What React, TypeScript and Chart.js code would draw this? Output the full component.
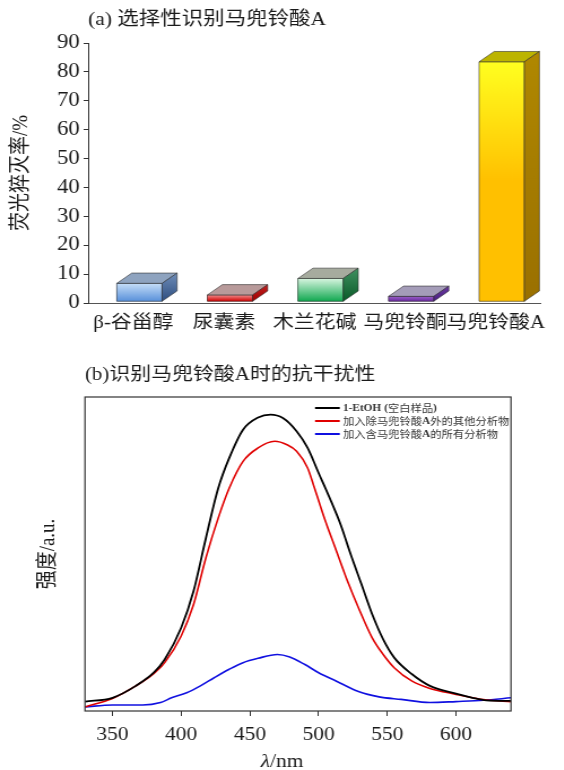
import React, { useEffect, useRef } from 'react';
import { Chart, registerables } from 'chart.js';

Chart.register(...registerables);

// ---------- data: panel (a) ----------
const titleA = '(a) 选择性识别马兜铃酸A';
const yTitleA = '荧光猝灭率/%';
const barCategories = ['β-谷甾醇', '尿囊素', '木兰花碱', '马兜铃酮', '马兜铃酸A'];
const quenchRates = [6.8, 2.8, 8.5, 2.3, 83.5];
const barBase = 0.6;
const yMaxA = 90;
const yStepA = 10;

// ---------- data: panel (b) ----------
const titleB = '(b)识别马兜铃酸A时的抗干扰性';
const yTitleB = '强度/a.u.';
const xTitleSymbol = 'λ';
const xTitleUnit = '/nm';
const xTickValues = [350, 400, 450, 500, 550, 600];
const xMinB = 330;
const xMaxB = 640;
const legendLabels = ['1-EtOH (空白样品)', '加入除马兜铃酸A外的其他分析物', '加入含马兜铃酸A的所有分析物'];

const blankWl = [330, 350, 367, 380, 388, 400, 409, 418, 427, 435, 445, 456, 465, 474, 484, 492, 500, 508, 516, 523, 531, 539, 547, 555, 568, 581, 600, 612, 622, 640];
const blankInt = [3.0, 4.2, 8.0, 12.2, 16.4, 26.5, 38.2, 55.1, 71.0, 80.6, 89.6, 93.5, 94.4, 93.3, 89.1, 83.8, 75.8, 67.9, 59.4, 50.3, 40.6, 30.8, 22.8, 17.0, 11.7, 8.0, 5.5, 4.2, 3.4, 3.2];

const othersWl = [330, 350, 367, 380, 388, 400, 409, 418, 427, 435, 445, 456, 468, 477, 484, 492, 497, 505, 513, 521, 529, 539, 547, 555, 568, 581, 600, 612, 622, 640];
const othersInt = [1.3, 4.0, 8.0, 11.9, 15.4, 23.9, 33.9, 48.8, 61.5, 71.0, 79.5, 83.8, 85.9, 84.8, 82.7, 77.4, 71.0, 60.4, 50.9, 41.4, 32.9, 23.3, 18.0, 13.8, 9.5, 7.2, 5.3, 4.2, 3.5, 3.0];

const allWl = [330, 350, 372, 385, 393, 404, 414, 424, 435, 445, 456, 470, 479, 490, 500, 513, 529, 544, 560, 581, 600, 620, 640];
const allInt = [1.3, 1.9, 1.9, 2.7, 4.2, 5.8, 8.0, 10.6, 13.3, 15.4, 16.8, 18.0, 17.2, 14.8, 12.2, 9.5, 6.2, 4.5, 3.7, 2.7, 3.0, 3.4, 4.2];

const lineColors = ['#000000', '#e00000', '#1010e0'];

// ---------- styles ----------
const S = 1.13; // horizontal stretch of the figure
const W = 499;
const HA = 344;
const HB = 426;
const FONT = "'Liberation Serif', 'Noto Sans CJK SC', serif";
const TEXT = '#1a1a1a';

const frontTop = ['#c6def8', '#f09090', '#d8f5e0', '#9a60c8', '#ffff20'];
const frontBottom = ['#5890da', '#d00000', '#10a850', '#6a2aa0', '#ffc000'];
const frontStop = [1, 1, 1, 1, 0.5];
const topFace = ['#8ea3bf', '#b89a9a', '#a6ab9e', '#a49cb8', '#bcb400'];
const sideTop = ['#6f8db8', '#c02020', '#3f9060', '#6a3aa0', '#b08800'];
const sideBottom = ['#2e4e80', '#a00000', '#0a5a28', '#4a2080', '#9a7000'];
const DEPTH_X = 13.3;
const DEPTH_Y = 10.3;
const SHIFT_X = 5.3;

const bar3dPlugin = {
  id: 'bar3d',
  beforeDatasetsDraw(chart: any) {
    chart.ctx.save();
    chart.ctx.translate(SHIFT_X, 0);
  },
  afterDatasetsDraw(chart: any) {
    const ctx = chart.ctx;
    const meta = chart.getDatasetMeta(0);
    meta.data.forEach((el: any, i: number) => {
      const { x, y, base, width } = el.getProps(['x', 'y', 'base', 'width'], true);
      const l = x - width / 2;
      const r = x + width / 2;
      ctx.strokeStyle = 'rgba(40,40,40,0.7)';
      ctx.lineWidth = 0.8;
      const g = ctx.createLinearGradient(0, y, 0, base);
      g.addColorStop(0, frontTop[i]);
      g.addColorStop(frontStop[i], frontBottom[i]);
      if (frontStop[i] < 1) g.addColorStop(1, frontBottom[i]);
      ctx.fillStyle = g;
      ctx.beginPath();
      ctx.rect(l, y, width, base - y);
      ctx.fill();
      ctx.stroke();
      ctx.fillStyle = topFace[i];
      ctx.beginPath();
      ctx.moveTo(l, y);
      ctx.lineTo(r, y);
      ctx.lineTo(r + DEPTH_X, y - DEPTH_Y);
      ctx.lineTo(l + DEPTH_X, y - DEPTH_Y);
      ctx.closePath();
      ctx.fill();
      ctx.stroke();
      const sg = ctx.createLinearGradient(0, y - DEPTH_Y, 0, base);
      sg.addColorStop(0, sideTop[i]);
      sg.addColorStop(1, sideBottom[i]);
      ctx.fillStyle = sg;
      ctx.beginPath();
      ctx.moveTo(r, y);
      ctx.lineTo(r + DEPTH_X, y - DEPTH_Y);
      ctx.lineTo(r + DEPTH_X, base - DEPTH_Y);
      ctx.lineTo(r, base);
      ctx.closePath();
      ctx.fill();
      ctx.stroke();
    });
    ctx.restore();
  },
};

const boxPlugin = {
  id: 'box',
  afterDraw(chart: any) {
    const { ctx, chartArea: a } = chart;
    ctx.save();
    ctx.strokeStyle = '#333';
    ctx.lineWidth = 1.2;
    ctx.strokeRect(a.left, a.top, a.right - a.left, a.bottom - a.top);
    ctx.restore();
  },
};

function drawMixed(ctx: CanvasRenderingContext2D, text: string, x: number, y: number, size: number) {
  const parts = text.match(/[\x00-\x7F]+|[^\x00-\x7F]+/g) || [];
  let cx = x;
  for (const p of parts) {
    const ascii = /^[\x00-\x7F]+$/.test(p);
    ctx.font = ascii ? `bold ${size}px 'Liberation Serif', serif` : `${size}px 'Noto Sans CJK SC', sans-serif`;
    ctx.fillText(p, cx, y);
    cx += ctx.measureText(p).width;
  }
}

const legendPlugin = {
  id: 'legendB',
  afterDraw(chart: any) {
    const { ctx, chartArea: a } = chart;
    ctx.save();
    ctx.textBaseline = 'middle';
    ctx.textAlign = 'left';
    chart.data.datasets.forEach((ds: any, i: number) => {
      const y = a.top + 11 + i * 13;
      ctx.strokeStyle = ds.borderColor;
      ctx.lineWidth = 2;
      ctx.beginPath();
      ctx.moveTo(a.right - 173.4, y);
      ctx.lineTo(a.right - 151.5, y);
      ctx.stroke();
      ctx.fillStyle = '#333';
      drawMixed(ctx, ds.label, a.right - 148.7, y, 10);
    });
    ctx.restore();
  },
};

const xTitlePlugin = {
  id: 'xTitleB',
  afterDraw(chart: any) {
    const { ctx, chartArea: a } = chart;
    ctx.save();
    ctx.fillStyle = TEXT;
    ctx.textBaseline = 'middle';
    ctx.textAlign = 'left';
    const cx = (a.left + a.right) / 2 - 14;
    const y = a.bottom + 51;
    ctx.font = `italic 19px ${FONT}`;
    const w1 = ctx.measureText(xTitleSymbol).width;
    ctx.font = `19px ${FONT}`;
    const w2 = ctx.measureText(xTitleUnit).width;
    const x0 = cx - (w1 + w2) / 2;
    ctx.font = `italic 19px ${FONT}`;
    ctx.fillText(xTitleSymbol, x0, y);
    ctx.font = `19px ${FONT}`;
    ctx.fillText(xTitleUnit, x0 + w1, y);
    ctx.restore();
  },
};

function makeSeries(xs: number[], ys: number[]) {
  return xs.map((x, i) => ({ x, y: ys[i] }));
}

export default function App() {
  const refA = useRef<HTMLCanvasElement>(null);
  const refB = useRef<HTMLCanvasElement>(null);

  useEffect(() => {
    const chartA = new Chart(refA.current as HTMLCanvasElement, {
      type: 'bar',
      data: {
        labels: barCategories,
        datasets: [
          {
            data: quenchRates,
            base: barBase,
            backgroundColor: frontBottom,
            borderWidth: 0,
            barPercentage: 0.5,
            categoryPercentage: 1,
          } as any,
        ],
      },
      options: {
        responsive: false,
        animation: false,
        events: [],
        layout: { padding: { left: 0, right: W - 478.8, top: 0, bottom: 0 } },
        plugins: {
          legend: { display: false },
          tooltip: { enabled: false },
          title: {
            display: true,
            text: titleA,
            align: 'start',
            fullSize: false,
            color: TEXT,
            font: { family: FONT, size: 19, weight: 'normal' },
            padding: { top: 8.5, bottom: 11.7 },
          },
        },
        scales: {
          x: {
            grid: { display: false, drawTicks: false },
            border: { display: true, color: '#555', width: 1 },
            ticks: { color: TEXT, font: { family: FONT, size: 18.5 }, padding: 9, maxRotation: 0, autoSkip: false },
            afterFit: (s: any) => { s.height = 41; },
          },
          y: {
            min: 0,
            max: yMaxA,
            ticks: { stepSize: yStepA, color: TEXT, font: { family: FONT, size: 20 }, padding: 3.5 },
            grid: { display: true, drawOnChartArea: false, drawTicks: true, tickLength: 4, color: '#333' },
            border: { display: true, color: '#333', width: 1 },
            title: { display: true, text: yTitleA, color: TEXT, font: { family: FONT, size: 19 }, padding: { top: 8, bottom: 0 } },
            afterFit: (s: any) => { s.width = 78; },
          },
        },
      },
      plugins: [bar3dPlugin],
    });

    const chartB = new Chart(refB.current as HTMLCanvasElement, {
      type: 'line',
      data: {
        datasets: [
          { label: legendLabels[0], data: makeSeries(blankWl, blankInt), borderColor: lineColors[0], borderWidth: 1.8 },
          { label: legendLabels[1], data: makeSeries(othersWl, othersInt), borderColor: lineColors[1], borderWidth: 1.6 },
          { label: legendLabels[2], data: makeSeries(allWl, allInt), borderColor: lineColors[2], borderWidth: 1.6 },
        ].map((d) => ({ ...d, pointRadius: 0, fill: false, cubicInterpolationMode: 'monotone' as const })),
      },
      options: {
        responsive: false,
        animation: false,
        events: [],
        layout: { padding: { left: 0, right: W - 452.2, top: 0, bottom: 0 } },
        plugins: {
          legend: { display: false },
          tooltip: { enabled: false },
          title: {
            display: true,
            text: titleB,
            align: 'start',
            fullSize: false,
            color: TEXT,
            font: { family: FONT, size: 18.5, weight: 'normal' },
            padding: { top: 20, bottom: 10.8 },
          },
        },
        scales: {
          x: {
            type: 'linear',
            min: xMinB,
            max: xMaxB,
            afterBuildTicks: (s: any) => { s.ticks = xTickValues.map((v) => ({ value: v })); },
            grid: { display: true, drawOnChartArea: false, drawTicks: true, tickLength: 5, color: '#333' },
            border: { display: false },
            ticks: { color: TEXT, font: { family: FONT, size: 19 }, padding: 8, maxRotation: 0 },
            afterFit: (s: any) => { s.height = HB - 367; },
          },
          y: {
            min: 0,
            max: 100,
            ticks: { display: false },
            grid: { display: false },
            border: { display: false },
            title: { display: true, text: yTitleB, color: TEXT, font: { family: FONT, size: 19 }, padding: { top: 31.4, bottom: 0 } },
            afterFit: (s: any) => { s.width = 75.2; },
          },
        },
      },
      plugins: [boxPlugin, legendPlugin, xTitlePlugin],
    });

    return () => {
      chartA.destroy();
      chartB.destroy();
    };
  }, []);

  const canvasStyle = (top: number, h: number): React.CSSProperties => ({
    position: 'absolute',
    left: 0,
    top,
    width: W,
    height: h,
    transform: `scaleX(${S})`,
    transformOrigin: '0 0',
  });

  return (
    <div style={{ position: 'fixed', left: 0, top: 0, width: 564, height: 770, background: '#fff', overflow: 'hidden' }}>
      <canvas ref={refA} width={W} height={HA} style={canvasStyle(0, HA)} />
      <canvas ref={refB} width={W} height={HB} style={canvasStyle(HA, HB)} />
    </div>
  );
}
